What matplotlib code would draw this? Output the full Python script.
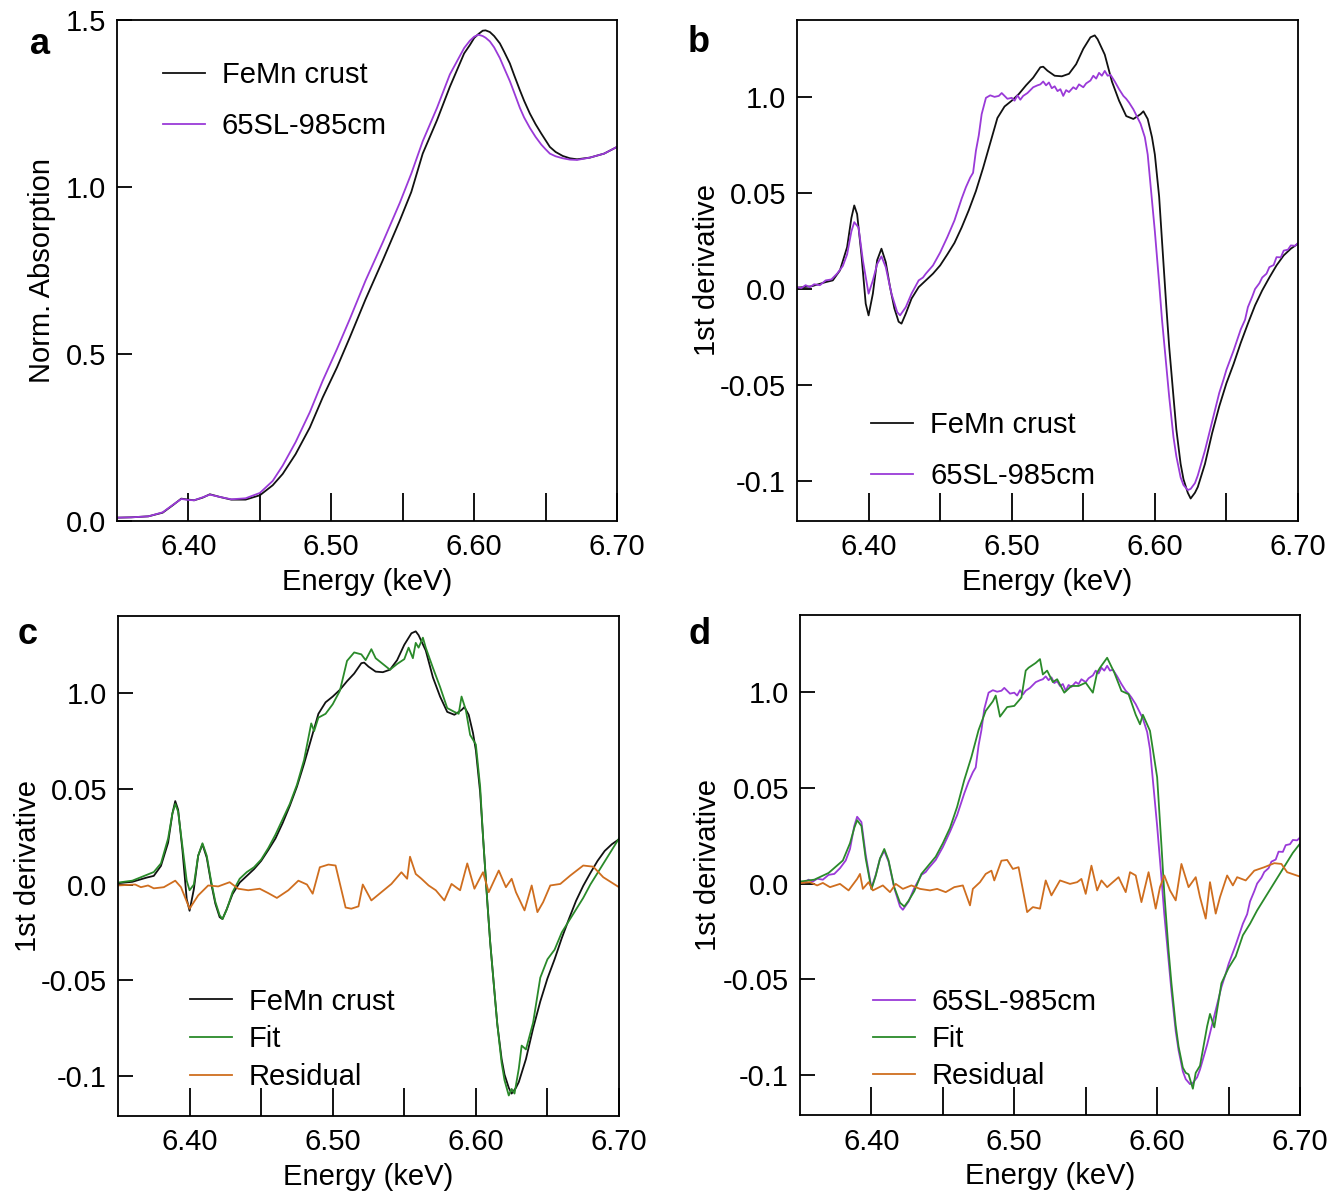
import numpy as np
import matplotlib
matplotlib.use("Agg")
import matplotlib.pyplot as plt

plt.rcParams['font.family'] = ['Liberation Sans', 'DejaVu Sans']

# ---- data ----
# panel a: normalised absorption
energy_abs = [6.35, 6.36, 6.372, 6.382, 6.389, 6.395, 6.40, 6.404, 6.41, 6.415,
              6.422, 6.43, 6.44, 6.45, 6.459, 6.466, 6.475, 6.485, 6.494, 6.504,
              6.513, 6.524, 6.536, 6.548, 6.556, 6.564, 6.574, 6.583, 6.593, 6.597,
              6.60, 6.603, 6.606, 6.608, 6.611, 6.614, 6.618, 6.621, 6.625, 6.628,
              6.632, 6.635, 6.639, 6.643, 6.647, 6.65, 6.653, 6.657, 6.662, 6.667,
              6.672, 6.681, 6.691, 6.70]
femn_abs = [0.010, 0.011, 0.014, 0.025, 0.047, 0.067, 0.064, 0.062, 0.070, 0.080,
            0.072, 0.064, 0.064, 0.077, 0.107, 0.141, 0.200, 0.280, 0.370, 0.460,
            0.550, 0.664, 0.780, 0.900, 0.985, 1.100, 1.200, 1.300, 1.400, 1.425,
            1.446, 1.458, 1.468, 1.469, 1.464, 1.452, 1.430, 1.405, 1.370, 1.335,
            1.290, 1.258, 1.220, 1.188, 1.160, 1.140, 1.120, 1.105, 1.093, 1.086,
            1.083, 1.088, 1.100, 1.120]
sl65_abs = [0.010, 0.011, 0.014, 0.026, 0.048, 0.066, 0.063, 0.062, 0.071, 0.079,
            0.072, 0.065, 0.068, 0.084, 0.120, 0.166, 0.236, 0.326, 0.420, 0.515,
            0.605, 0.720, 0.834, 0.953, 1.040, 1.137, 1.237, 1.337, 1.416, 1.438,
            1.450, 1.456, 1.452, 1.447, 1.436, 1.418, 1.386, 1.356, 1.317, 1.283,
            1.237, 1.208, 1.177, 1.150, 1.127, 1.113, 1.100, 1.092, 1.086, 1.082,
            1.081, 1.088, 1.100, 1.120]

# panels b-d: first derivative, (energy, value) pairs
femn_deriv = [
    (6.350, 0.0007), (6.360, 0.0014), (6.370, 0.0036), (6.375, 0.0045), (6.380, 0.0097),
    (6.385, 0.0218), (6.388, 0.037), (6.390, 0.0435), (6.392, 0.039), (6.395, 0.018),
    (6.398, -0.0076), (6.400, -0.0137), (6.403, -0.0024), (6.406, 0.015), (6.409, 0.021),
    (6.412, 0.014), (6.415, 0.001), (6.418, -0.010), (6.421, -0.017), (6.423, -0.018),
    (6.426, -0.0128), (6.430, -0.005), (6.435, 0.001), (6.440, 0.0045), (6.445, 0.008),
    (6.450, 0.0123), (6.455, 0.018), (6.460, 0.024), (6.465, 0.032), (6.470, 0.041),
    (6.475, 0.051), (6.480, 0.063), (6.485, 0.076), (6.490, 0.089), (6.495, 0.095),
    (6.500, 0.098), (6.505, 0.1015), (6.510, 0.106), (6.515, 0.110), (6.520, 0.1154),
    (6.522, 0.1157), (6.525, 0.1136), (6.530, 0.111), (6.535, 0.1107), (6.540, 0.112),
    (6.545, 0.117), (6.550, 0.125), (6.555, 0.131), (6.558, 0.132), (6.560, 0.130),
    (6.565, 0.122), (6.570, 0.108), (6.575, 0.098), (6.580, 0.090), (6.585, 0.0885),
    (6.590, 0.091), (6.592, 0.0925), (6.595, 0.0885), (6.598, 0.079), (6.600, 0.070),
    (6.603, 0.048), (6.605, 0.025), (6.608, -0.009), (6.610, -0.030), (6.613, -0.056),
    (6.615, -0.073), (6.618, -0.091), (6.620, -0.099), (6.623, -0.106), (6.625, -0.109),
    (6.628, -0.106), (6.630, -0.103), (6.635, -0.091), (6.640, -0.075), (6.645, -0.061),
    (6.650, -0.049), (6.655, -0.039), (6.660, -0.028), (6.665, -0.018), (6.670, -0.0085),
    (6.675, -0.0007), (6.680, 0.006), (6.685, 0.0123), (6.690, 0.0175), (6.695, 0.021),
    (6.700, 0.0236)]

sl65_deriv = [
    (6.350, 0.001), (6.353, 0.0005), (6.356, 0.002), (6.359, 0.001), (6.362, 0.0025),
    (6.366, 0.002), (6.370, 0.0045), (6.374, 0.005), (6.378, 0.008), (6.382, 0.012),
    (6.385, 0.018), (6.388, 0.030), (6.390, 0.0348), (6.393, 0.032), (6.396, 0.015),
    (6.400, -0.0024), (6.403, 0.0045), (6.406, 0.013), (6.409, 0.017), (6.412, 0.0114),
    (6.416, -0.0024), (6.420, -0.012), (6.422, -0.0137), (6.426, -0.0094), (6.430, -0.0024),
    (6.435, 0.0045), (6.438, 0.006), (6.440, 0.008), (6.445, 0.0123), (6.450, 0.019),
    (6.455, 0.027), (6.460, 0.0357), (6.465, 0.047), (6.468, 0.053), (6.471, 0.058),
    (6.473, 0.0605), (6.475, 0.072), (6.477, 0.080), (6.479, 0.091), (6.482, 0.0995),
    (6.485, 0.1008), (6.488, 0.100), (6.491, 0.1005), (6.493, 0.102), (6.495, 0.1005),
    (6.497, 0.099), (6.500, 0.0995), (6.502, 0.098), (6.504, 0.1008), (6.506, 0.0985),
    (6.508, 0.1005), (6.511, 0.102), (6.513, 0.1035), (6.515, 0.105), (6.518, 0.106),
    (6.520, 0.1065), (6.522, 0.108), (6.524, 0.106), (6.526, 0.1075), (6.528, 0.1045),
    (6.530, 0.1055), (6.532, 0.103), (6.534, 0.104), (6.536, 0.1005), (6.538, 0.1035),
    (6.540, 0.1025), (6.543, 0.105), (6.545, 0.104), (6.547, 0.1065), (6.550, 0.105),
    (6.552, 0.107), (6.555, 0.1085), (6.557, 0.111), (6.559, 0.1095), (6.561, 0.1125),
    (6.563, 0.111), (6.565, 0.1135), (6.567, 0.111), (6.569, 0.1115), (6.572, 0.108),
    (6.575, 0.104), (6.578, 0.1005), (6.580, 0.099), (6.582, 0.097), (6.585, 0.0935),
    (6.588, 0.089), (6.590, 0.086), (6.593, 0.079), (6.595, 0.070), (6.598, 0.046),
    (6.600, 0.030), (6.603, 0.003), (6.605, -0.016), (6.608, -0.040), (6.610, -0.056),
    (6.613, -0.077), (6.615, -0.087), (6.618, -0.098), (6.620, -0.102), (6.623, -0.1046),
    (6.625, -0.104), (6.628, -0.101), (6.630, -0.097), (6.635, -0.084), (6.640, -0.069),
    (6.645, -0.054), (6.648, -0.047), (6.650, -0.042), (6.655, -0.032), (6.660, -0.021),
    (6.663, -0.016), (6.665, -0.0094), (6.668, -0.004), (6.670, 0.0), (6.673, 0.003),
    (6.675, 0.006), (6.678, 0.008), (6.680, 0.0114), (6.683, 0.0125), (6.685, 0.0166),
    (6.688, 0.0165), (6.690, 0.020), (6.693, 0.0205), (6.695, 0.0227), (6.698, 0.0225),
    (6.700, 0.024)]

fit_c = [
    (6.350, 0.001), (6.360, 0.002), (6.370, 0.005), (6.375, 0.0065), (6.380, 0.011),
    (6.385, 0.024), (6.388, 0.037), (6.390, 0.042), (6.392, 0.038), (6.395, 0.020),
    (6.398, 0.002), (6.400, -0.003), (6.403, 0.000), (6.406, 0.015), (6.409, 0.0215),
    (6.412, 0.015), (6.415, 0.002), (6.418, -0.009), (6.421, -0.016), (6.423, -0.018),
    (6.426, -0.013), (6.430, -0.004), (6.435, 0.003), (6.440, 0.0065), (6.445, 0.009),
    (6.450, 0.013), (6.455, 0.019), (6.460, 0.026), (6.465, 0.034), (6.470, 0.042),
    (6.475, 0.052), (6.480, 0.065), (6.485, 0.084), (6.487, 0.080), (6.490, 0.087),
    (6.495, 0.089), (6.500, 0.094), (6.505, 0.101), (6.510, 0.1166), (6.515, 0.121),
    (6.520, 0.120), (6.523, 0.117), (6.527, 0.1227), (6.530, 0.118), (6.535, 0.115),
    (6.540, 0.112), (6.545, 0.115), (6.550, 0.1175), (6.553, 0.1235), (6.556, 0.118),
    (6.558, 0.126), (6.560, 0.1235), (6.563, 0.1287), (6.565, 0.1235), (6.570, 0.113),
    (6.575, 0.103), (6.580, 0.092), (6.585, 0.090), (6.588, 0.089), (6.590, 0.098),
    (6.593, 0.091), (6.596, 0.078), (6.600, 0.073), (6.603, 0.051), (6.605, 0.025),
    (6.608, -0.009), (6.610, -0.030), (6.613, -0.056), (6.615, -0.073), (6.618, -0.093),
    (6.620, -0.102), (6.623, -0.110), (6.625, -0.1066), (6.627, -0.109), (6.630, -0.096),
    (6.632, -0.084), (6.635, -0.086), (6.640, -0.072), (6.645, -0.0486), (6.650, -0.039),
    (6.655, -0.034), (6.660, -0.025), (6.665, -0.019), (6.670, -0.013), (6.675, -0.007),
    (6.680, 0.000), (6.685, 0.006), (6.690, 0.012), (6.695, 0.018), (6.700, 0.024)]

resid_c = [
    (6.350, -0.0005), (6.362, 0.0), (6.366, -0.0014), (6.371, -0.0005), (6.375, -0.002),
    (6.382, -0.0014), (6.390, 0.002), (6.394, -0.0014), (6.400, -0.0126), (6.406, -0.0057),
    (6.413, -0.0005), (6.420, -0.001), (6.428, 0.0012), (6.434, -0.0022), (6.441, -0.003),
    (6.449, -0.0022), (6.455, -0.0045), (6.461, -0.007), (6.469, -0.003), (6.476, 0.002),
    (6.482, 0.0), (6.486, -0.0048), (6.491, 0.009), (6.497, 0.0104), (6.502, 0.0099),
    (6.509, -0.012), (6.513, -0.0126), (6.518, -0.0114), (6.521, 0.0), (6.527, -0.0083),
    (6.534, -0.004), (6.541, 0.0003), (6.548, 0.0064), (6.552, 0.003), (6.554, 0.0145),
    (6.558, 0.0055), (6.562, 0.003), (6.567, -0.0005), (6.572, -0.003), (6.578, -0.0083),
    (6.583, 0.0003), (6.589, -0.003), (6.594, 0.011), (6.599, -0.0022), (6.605, 0.0064),
    (6.609, -0.004), (6.616, 0.0073), (6.621, -0.0014), (6.625, 0.003), (6.628, -0.004),
    (6.634, -0.0135), (6.639, -0.0005), (6.643, -0.0144), (6.647, -0.0092), (6.652, -0.0005),
    (6.659, 0.0003), (6.666, 0.0047), (6.675, 0.0099), (6.682, 0.0093), (6.689, 0.0038),
    (6.700, -0.0014)]

fit_d = [
    (6.350, 0.001), (6.360, 0.002), (6.370, 0.0055), (6.380, 0.012), (6.385, 0.021),
    (6.388, 0.029), (6.390, 0.033), (6.393, 0.030), (6.396, 0.013), (6.400, -0.003),
    (6.403, 0.004), (6.406, 0.013), (6.409, 0.018), (6.412, 0.012), (6.416, -0.002),
    (6.420, -0.010), (6.423, -0.012), (6.426, -0.009), (6.430, -0.004), (6.435, 0.005),
    (6.440, 0.0095), (6.445, 0.014), (6.450, 0.021), (6.455, 0.029), (6.460, 0.040),
    (6.465, 0.054), (6.470, 0.066), (6.475, 0.080), (6.480, 0.090), (6.485, 0.095),
    (6.487, 0.098), (6.490, 0.087), (6.493, 0.090), (6.495, 0.092), (6.500, 0.0926),
    (6.505, 0.097), (6.508, 0.111), (6.510, 0.1125), (6.515, 0.115), (6.518, 0.117),
    (6.520, 0.109), (6.523, 0.111), (6.527, 0.105), (6.530, 0.1065), (6.535, 0.0995),
    (6.540, 0.103), (6.545, 0.103), (6.550, 0.1047), (6.555, 0.0995), (6.558, 0.110),
    (6.560, 0.1125), (6.565, 0.1177), (6.570, 0.110), (6.575, 0.1004), (6.580, 0.0987),
    (6.585, 0.088), (6.588, 0.083), (6.590, 0.088), (6.595, 0.0796), (6.600, 0.0554),
    (6.603, 0.020), (6.605, -0.005), (6.608, -0.035), (6.610, -0.052), (6.613, -0.074),
    (6.615, -0.085), (6.618, -0.096), (6.620, -0.0987), (6.622, -0.0995), (6.625, -0.107),
    (6.627, -0.0987), (6.630, -0.095), (6.635, -0.0744), (6.637, -0.068), (6.640, -0.075),
    (6.645, -0.052), (6.650, -0.044), (6.655, -0.038), (6.660, -0.027), (6.665, -0.021),
    (6.670, -0.014), (6.675, -0.008), (6.680, -0.002), (6.685, 0.004), (6.690, 0.010),
    (6.695, 0.016), (6.700, 0.0208)]

resid_d = [
    (6.350, 0.0002), (6.357, 0.0007), (6.362, -0.001), (6.366, 0.0003), (6.371, -0.0019),
    (6.378, -0.0002), (6.384, -0.0036), (6.390, 0.0024), (6.392, 0.005), (6.394, -0.0028),
    (6.398, 0.0007), (6.401, -0.0036), (6.408, -0.001), (6.413, -0.0045), (6.417, -0.0002),
    (6.422, -0.0028), (6.428, -0.001), (6.434, -0.0028), (6.441, -0.0036), (6.446, -0.0028),
    (6.452, -0.0045), (6.458, -0.0019), (6.464, -0.001), (6.469, -0.0114), (6.471, -0.0028),
    (6.476, 0.0007), (6.480, 0.005), (6.484, 0.0067), (6.486, 0.0016), (6.491, 0.0119),
    (6.495, 0.0123), (6.499, 0.0076), (6.503, 0.0085), (6.509, -0.0149), (6.513, -0.0123),
    (6.518, -0.0131), (6.522, 0.0016), (6.526, -0.0062), (6.532, 0.0016), (6.539, -0.0002),
    (6.544, 0.0007), (6.547, 0.0024), (6.550, -0.0054), (6.554, 0.0093), (6.558, -0.0036),
    (6.561, 0.0016), (6.565, -0.0019), (6.569, 0.0007), (6.573, 0.0033), (6.578, -0.0045),
    (6.581, 0.0059), (6.585, 0.0042), (6.589, -0.0097), (6.594, 0.0059), (6.599, -0.0131),
    (6.602, -0.0019), (6.605, 0.0042), (6.609, -0.0036), (6.613, -0.0088), (6.617, 0.0102),
    (6.622, -0.0019), (6.627, 0.0033), (6.630, -0.0071), (6.634, -0.0183), (6.637, 0.0007),
    (6.641, -0.0157), (6.644, -0.0071), (6.649, 0.0042), (6.653, -0.001), (6.656, 0.0033),
    (6.662, 0.0016), (6.668, 0.0067), (6.675, 0.0085), (6.682, 0.0106), (6.687, 0.0102),
    (6.691, 0.0059), (6.700, 0.0036)]

x_ticks = [6.40, 6.45, 6.50, 6.55, 6.60, 6.65, 6.70]
x_ticklabels = ['6.40', '', '6.50', '', '6.60', '', '6.70']
abs_ticks = [0.0, 0.5, 1.0, 1.5]
abs_ticklabels = ['0.0', '0.5', '1.0', '1.5']
deriv_ticks = [-0.1, -0.05, 0.0, 0.05, 0.1]
deriv_ticklabels = ['-0.1', '-0.05', '0.0', '0.05', '1.0']

BLACK = '#111111'
PURPLE = '#9a3ad8'
GREEN = '#2a8a2a'
ORANGE = '#cf6e1f'
FS = 21
LW = 1.3


def unzip(pairs):
    arr = np.array(pairs)
    return arr[:, 0], arr[:, 1]


def style_axes(ax):
    ax.set_xlim(6.35, 6.70)
    ax.set_xticks(x_ticks)
    ax.set_xticklabels(x_ticklabels)
    ax.tick_params(axis='x', direction='in', length=20, width=1.3, pad=9, labelsize=FS)
    ax.tick_params(axis='y', direction='in', length=11, width=1.3, pad=8, labelsize=FS)
    for s in ax.spines.values():
        s.set_linewidth(1.3)
    ax.set_xlabel('Energy (keV)', fontsize=FS, labelpad=5)


def deriv_axes(ax):
    style_axes(ax)
    ax.set_ylim(-0.1207, 0.1400)
    ax.set_yticks(deriv_ticks)
    ax.set_yticklabels(deriv_ticklabels)
    ax.set_ylabel('1st derivative', fontsize=FS)


W, H = 1334, 1195
fig = plt.figure(figsize=(W / 100, H / 100), dpi=100)


def px_axes(left, top, right, bottom):
    return fig.add_axes([left / W, 1 - bottom / H, (right - left) / W, (bottom - top) / H])


ax_a = px_axes(117, 20, 617, 521)
ax_b = px_axes(797, 20, 1298, 521)
ax_c = px_axes(118, 616, 619, 1116)
ax_d = px_axes(800, 615, 1300, 1115)

leg_kw = dict(frameon=False, fontsize=FS, handlelength=1.44, handletextpad=0.58,
              borderpad=0, borderaxespad=0, loc='upper left')

# a
ax_a.plot(energy_abs, femn_abs, color=BLACK, lw=LW, label='FeMn crust')
ax_a.plot(energy_abs, sl65_abs, color=PURPLE, lw=LW, label='65SL-985cm')
style_axes(ax_a)
ax_a.set_ylim(0, 1.5)
ax_a.set_yticks(abs_ticks)
ax_a.set_yticklabels(abs_ticklabels)
ax_a.set_ylabel('Norm. Absorption', fontsize=FS)
ax_a.yaxis.set_label_coords(-0.122, 0.5)
ax_a.legend(bbox_to_anchor=(0.092, 0.918), labelspacing=0.79, **leg_kw)

# b
e, v = unzip(femn_deriv)
ax_b.plot(e, v, color=BLACK, lw=LW, label='FeMn crust')
e, v = unzip(sl65_deriv)
ax_b.plot(e, v, color=PURPLE, lw=LW, label='65SL-985cm')
deriv_axes(ax_b)
ax_b.yaxis.set_label_coords(-0.151, 0.5)
ax_b.legend(bbox_to_anchor=(0.148, 0.219), labelspacing=0.79, **leg_kw)

# c
e, v = unzip(femn_deriv)
ax_c.plot(e, v, color=BLACK, lw=LW, label='FeMn crust')
e, v = unzip(fit_c)
ax_c.plot(e, v, color=GREEN, lw=LW, label='Fit')
e, v = unzip(resid_c)
ax_c.plot(e, v, color=ORANGE, lw=LW, label='Residual')
deriv_axes(ax_c)
ax_c.yaxis.set_label_coords(-0.152, 0.5)
ax_c.legend(bbox_to_anchor=(0.144, 0.257), labelspacing=0.34, **leg_kw)

# d
e, v = unzip(sl65_deriv)
ax_d.plot(e, v, color=PURPLE, lw=LW, label='65SL-985cm')
e, v = unzip(fit_d)
ax_d.plot(e, v, color=GREEN, lw=LW, label='Fit')
e, v = unzip(resid_d)
ax_d.plot(e, v, color=ORANGE, lw=LW, label='Residual')
deriv_axes(ax_d)
ax_d.yaxis.set_label_coords(-0.157, 0.5)
ax_d.legend(bbox_to_anchor=(0.146, 0.253), labelspacing=0.30, **leg_kw)

# panel letters
for letter, (x, y) in zip('abcd', [(40, 45), (699, 42), (28, 634), (700, 634)]):
    fig.text(x / W, 1 - y / H, letter, fontsize=26, fontweight='bold', ha='center', va='center')

fig.savefig('out.png', dpi=100)
